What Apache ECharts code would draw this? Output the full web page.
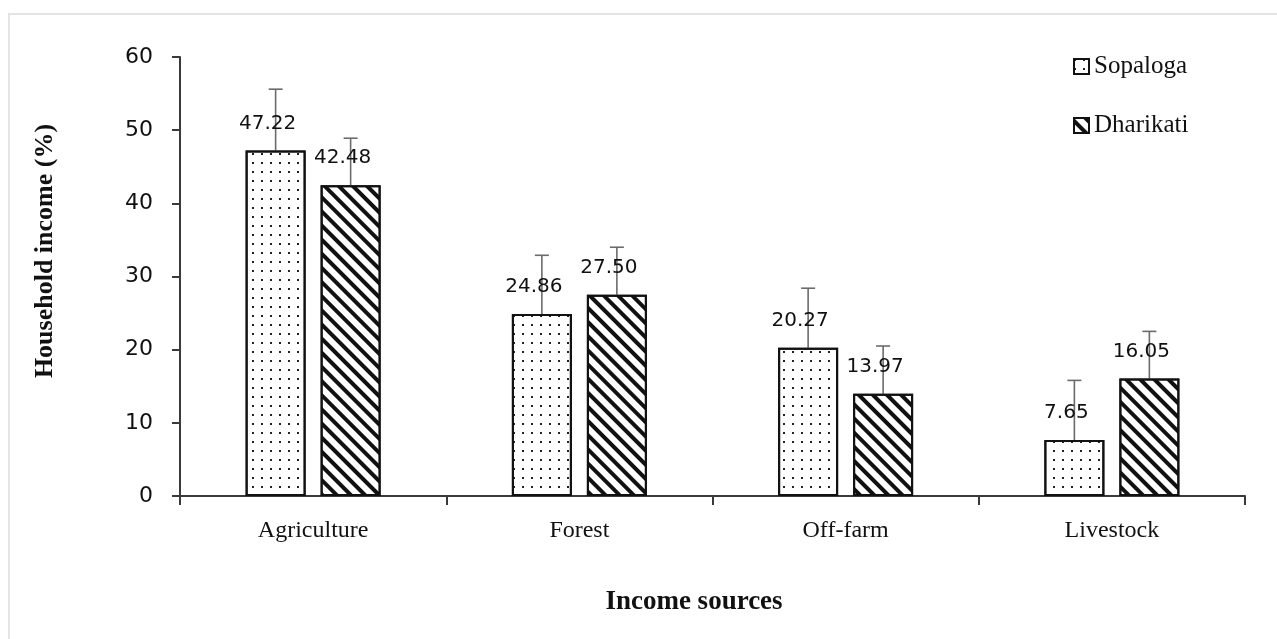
<!DOCTYPE html>
<html>
<head>
<meta charset="utf-8">
<script src="https://cdn.jsdelivr.net/npm/echarts@6/dist/echarts.min.js"></script>
<style>
  html, body { margin: 0; padding: 0; background: #fff; }
  #bar { width: 1277px; height: 639px; }
</style>
</head>
<body>
<div id="bar"></div>
<script>
const categories = ["Agriculture", "Forest", "Off-farm", "Livestock"];
const sopaloga = [47.22, 24.86, 20.27, 7.65];
const dharikati = [42.48, 27.5, 13.97, 16.05];
// top of the error bars
const sopalogaUpper = [55.6, 32.9, 28.4, 15.8];
const dharikatiUpper = [48.9, 34.0, 20.5, 22.5];
const yTicks = [0, 10, 20, 30, 40, 50, 60];

const serif = '"Liberation Serif", "DejaVu Serif", serif';
const sans = '"DejaVu Sans", sans-serif';
const BAR_W = 60;
const BAR_OFF = 37.5; // half bar + half gap

const chart = echarts.init(document.getElementById("bar"));

const errorSeries = (name, values, upper, side) => ({
  name: name + " err",
  type: "custom",
  z: 1,
  silent: true,
  data: values.map((v, i) => [i, v, upper[i]]),
  renderItem: (params, api) => {
    const base = api.coord([api.value(0), api.value(1)]);
    const top = api.coord([api.value(0), api.value(2)]);
    const x = base[0] + side * BAR_OFF;
    const style = { stroke: "#6b6b6b", lineWidth: 1.6 };
    return {
      type: "group",
      children: [
        { type: "line", shape: { x1: x, y1: base[1], x2: x, y2: top[1] }, style },
        { type: "line", shape: { x1: x - 7, y1: top[1], x2: x + 7, y2: top[1] }, style },
      ],
    };
  },
});

const barLabel = {
  show: true,
  position: "top",
  offset: [-8, -12],
  fontFamily: sans,
  fontSize: 20,
  color: "#111",
  formatter: (p) => p.value.toFixed(2),
};

const option = {
  animation: false,
  backgroundColor: "#fff",
  grid: { left: 180, top: 57, width: 1065, height: 439 },
  legend: {
    orient: "vertical",
    left: 1068,
    top: 49,
    icon: "rect",
    itemWidth: 15,
    itemHeight: 15,
    itemGap: 34,
    textStyle: { fontFamily: serif, fontSize: 25, color: "#111" },
    data: ["Sopaloga", "Dharikati"],
  },
  xAxis: {
    type: "category",
    data: categories,
    axisLine: { lineStyle: { color: "#3a3a3a", width: 2 } },
    axisTick: { show: true, length: 9, lineStyle: { color: "#3a3a3a", width: 2 } },
    axisLabel: { fontFamily: serif, fontSize: 24, color: "#111", margin: 23 },
  },
  yAxis: {
    type: "value",
    min: yTicks[0],
    max: yTicks[yTicks.length - 1],
    interval: 10,
    splitLine: { show: false },
    axisLine: { show: true, lineStyle: { color: "#3a3a3a", width: 2 } },
    axisTick: { show: true, length: 8, lineStyle: { color: "#3a3a3a", width: 2 } },
    axisLabel: { fontFamily: sans, fontSize: 22, color: "#111", margin: 27 },
  },
  graphic: [
    {
      type: "rect",
      shape: { x: 9, y: 14, width: 1400, height: 800 },
      style: { fill: null, stroke: "#e4e4e4", lineWidth: 2 },
      silent: true,
      z: -10,
    },
    {
      type: "text",
      x: 45,
      y: 251,
      rotation: Math.PI / 2,
      style: {
        text: "Household income (%)",
        font: "bold 26px " + serif,
        fill: "#111",
        textAlign: "center",
        textVerticalAlign: "middle",
      },
    },
    {
      type: "text",
      x: 694,
      y: 602,
      style: {
        text: "Income sources",
        font: "bold 27px " + serif,
        fill: "#111",
        textAlign: "center",
        textVerticalAlign: "middle",
      },
    },
  ],
  series: [
    {
      name: "Sopaloga",
      type: "bar",
      data: sopaloga,
      barWidth: BAR_W,
      barGap: "25%",
      z: 2,
      itemStyle: {
        color: "#fff",
        borderColor: "#111",
        borderWidth: 2,
        decal: {
          symbol: "rect",
          symbolSize: 1,
          dashArrayX: [2, 7],
          dashArrayY: [2, 7],
          color: "#222",
        },
      },
      label: barLabel,
    },
    {
      name: "Dharikati",
      type: "bar",
      data: dharikati,
      barWidth: BAR_W,
      barGap: "25%",
      z: 2,
      itemStyle: {
        color: "#fff",
        borderColor: "#111",
        borderWidth: 2,
        decal: {
          symbol: "rect",
          symbolSize: 1,
          dashArrayX: [1, 0],
          dashArrayY: [4, 6],
          rotation: Math.PI / 4,
          color: "#111",
        },
      },
      label: barLabel,
    },
    errorSeries("Sopaloga", sopaloga, sopalogaUpper, -1),
    errorSeries("Dharikati", dharikati, dharikatiUpper, 1),
  ],
};

chart.setOption(option);

window.addEventListener("resize", () => {
  chart.resize();
});
</script>
</body>
</html>
